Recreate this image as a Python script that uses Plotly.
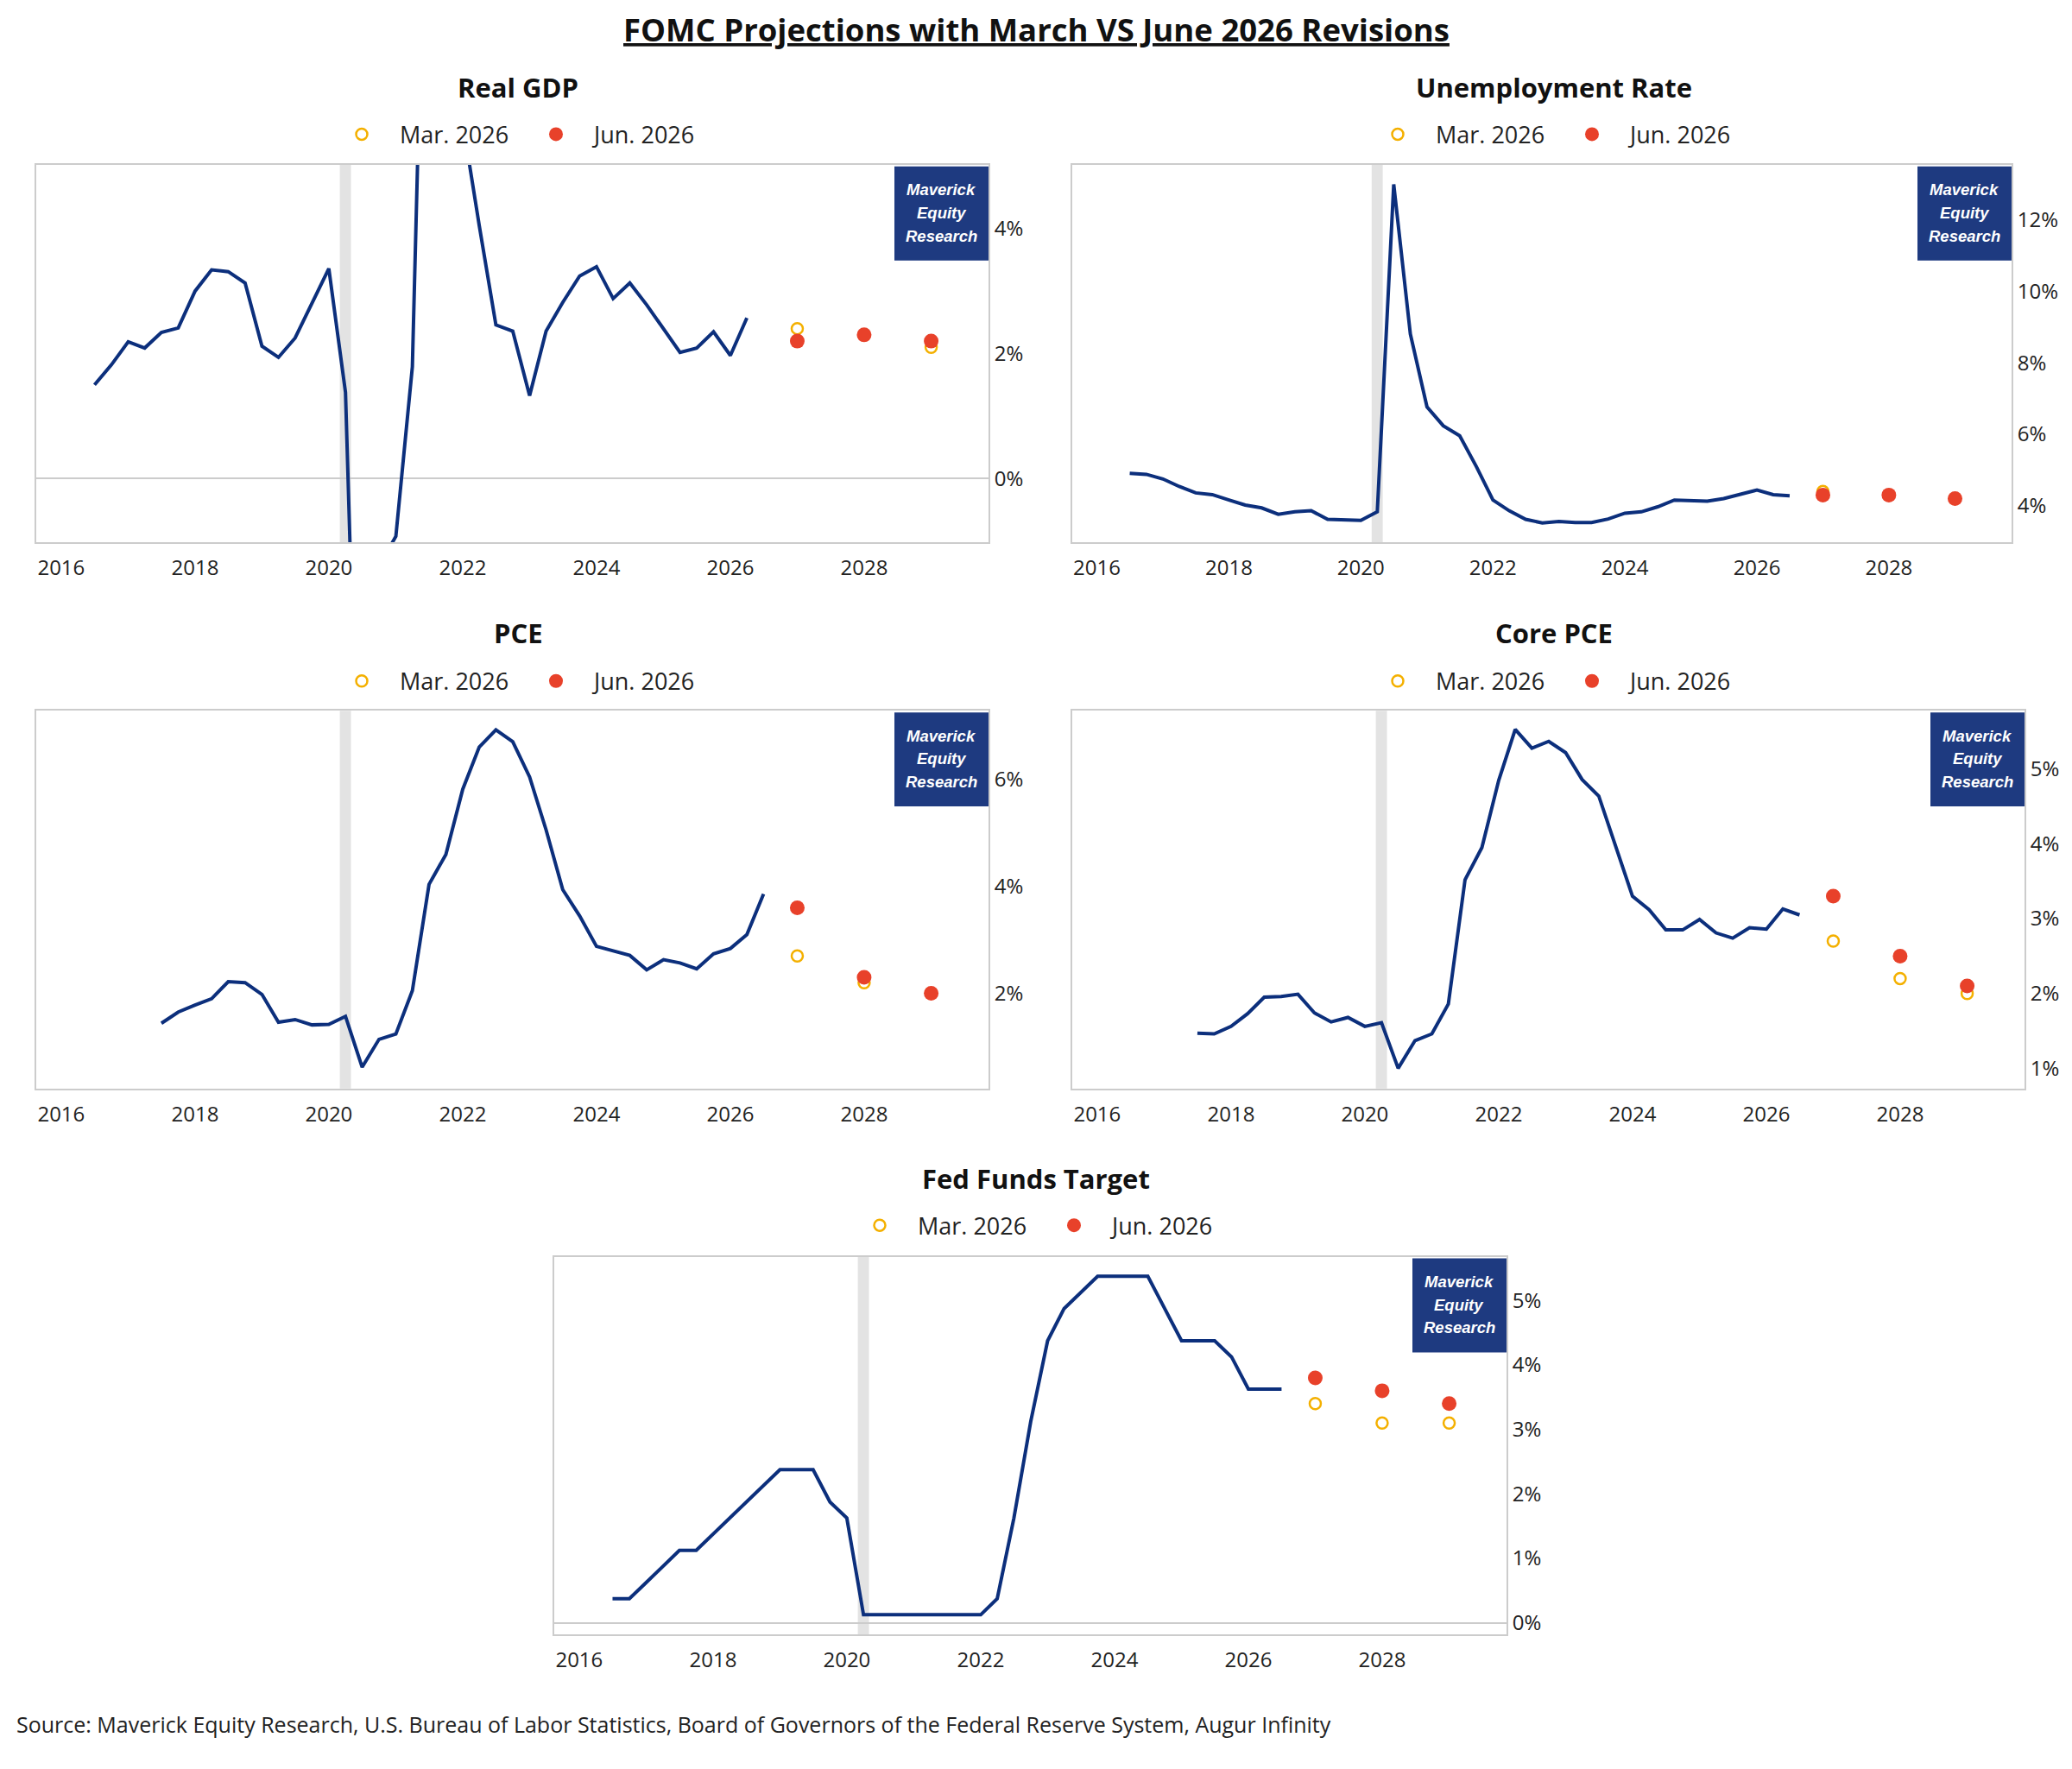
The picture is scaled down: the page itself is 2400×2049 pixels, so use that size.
import plotly.graph_objects as go
import pandas as pd

# ---------------- data ----------------
TITLE = "FOMC Projections with March VS June 2026 Revisions"
SOURCE = ("Source: Maverick Equity Research, U.S. Bureau of Labor Statistics, "
          "Board of Governors of the Federal Reserve System, Augur Infinity")
panel_titles = ["Real GDP", "Unemployment Rate", "PCE", "Core PCE", "Fed Funds Target"]
legend_names = ["Mar. 2026", "Jun. 2026"]
proj_dates = ["2027-01-01", "2028-01-01", "2029-01-01"]
recession = ["2020-03-01", "2020-05-01"]
watermark_lines = ["Maverick", "Equity", "Research"]

gdp_start = "2016-07-01"
gdp_vals = [1.50, 1.82, 2.19, 2.09, 2.34, 2.41, 3.00, 3.34, 3.31, 3.13,
            2.12, 1.94, 2.25, 2.81, 3.36, 1.38, -7.6, -1.4, -0.92, 1.79,
            12.2, 6.0, 5.7, 4.05, 2.46, 2.36, 1.33, 2.36, 2.82, 3.24,
            3.39, 2.88, 3.13, 2.78, 2.40, 2.02, 2.09, 2.35, 1.97, 2.57]
gdp_mar = [2.4, 2.3, 2.1]
gdp_jun = [2.2, 2.3, 2.2]

unemp_start = "2016-07-01"
unemp_vals = [4.91, 4.88, 4.75, 4.54, 4.36, 4.31, 4.16, 4.02, 3.94, 3.76,
              3.83, 3.86, 3.62, 3.61, 3.59, 3.83, 13.0, 8.81, 6.77, 6.24,
              5.96, 5.10, 4.16, 3.86, 3.62, 3.52, 3.56, 3.53, 3.53, 3.63,
              3.79, 3.83, 3.97, 4.16, 4.15, 4.13, 4.20, 4.31, 4.44, 4.31, 4.28]
unemp_mar = [4.4, 4.3, 4.2]
unemp_jun = [4.3, 4.3, 4.2]

pce_start = "2017-07-01"
pce_vals = [1.44, 1.65, 1.78, 1.90, 2.22, 2.20, 1.98, 1.46, 1.51, 1.41,
            1.42, 1.57, 0.62, 1.14, 1.24, 2.05, 4.04, 4.60, 5.82, 6.61,
            6.93, 6.71, 6.05, 5.06, 3.94, 3.45, 2.88, 2.79, 2.71, 2.44,
            2.63, 2.57, 2.46, 2.74, 2.84, 3.10, 3.86]
pce_mar = [2.7, 2.2, 2.0]
pce_jun = [3.6, 2.3, 2.0]

core_start = "2017-07-01"
core_vals = [1.47, 1.46, 1.56, 1.73, 1.95, 1.96, 1.99, 1.74, 1.62, 1.68,
             1.56, 1.61, 1.00, 1.37, 1.46, 1.86, 3.52, 3.95, 4.85, 5.53,
             5.28, 5.37, 5.22, 4.86, 4.64, 3.96, 3.30, 3.12, 2.85, 2.85,
             2.99, 2.81, 2.74, 2.88, 2.86, 3.13, 3.05]
core_mar = [2.7, 2.2, 2.0]
core_jun = [3.3, 2.5, 2.1]

ff_start = "2016-07-01"
ff_vals = [0.375, 0.375, 0.625, 0.875, 1.125, 1.125, 1.375, 1.625, 1.875, 2.125,
           2.375, 2.375, 2.375, 1.875, 1.625, 0.125, 0.125, 0.125, 0.125, 0.125,
           0.125, 0.125, 0.125, 0.375, 1.625, 3.125, 4.375, 4.875, 5.125, 5.375,
           5.375, 5.375, 5.375, 4.875, 4.375, 4.375, 4.375, 4.125, 3.625, 3.625, 3.625]
ff_mar = [3.4, 3.1, 3.1]
ff_jun = [3.8, 3.6, 3.4]

series = [
    (gdp_start, gdp_vals, gdp_mar, gdp_jun),
    (unemp_start, unemp_vals, unemp_mar, unemp_jun),
    (pce_start, pce_vals, pce_mar, pce_jun),
    (core_start, core_vals, core_mar, core_jun),
    (ff_start, ff_vals, ff_mar, ff_jun),
]

# ---------------- layout (pixels, in screenshot coordinates) ----------------
OFF = 8                      # default page margin around the plot
W, H = 2400 - 2 * OFF, 2049 - 2 * OFF
panels = [
    dict(x0=42, x1=1145, y0=191, y1=629, cx=600, ty=101, ly=156, yr=[-1.02, 5.02], dt=2),
    dict(x0=1242, x1=2330, y0=191, y1=629, cx=1800, ty=101, ly=156, yr=[2.97, 13.55], dt=2),
    dict(x0=42, x1=1145, y0=824, y1=1262, cx=600, ty=734, ly=790, yr=[0.22, 7.29], dt=2),
    dict(x0=1242, x1=2345, y0=824, y1=1262, cx=1800, ty=734, ly=790, yr=[0.73, 5.78], dt=1),
    dict(x0=642, x1=1745, y0=1457, y1=1895, cx=1200, ty=1366, ly=1421, yr=[-0.18, 5.68], dt=1),
]


def fx(v):
    return (v - OFF) / W


def fy(v):
    return 1 - (v - OFF) / H


FONT = "Open Sans"
LINE_COLOR = "#0c2f7c"
MAR_COLOR = "#f4b000"
JUN_COLOR = "#e8412a"
BOX_COLOR = "#1e3a80"
BORDER = "#cccccc"

fig = go.Figure()
layout = dict(
    width=W, height=H,
    margin=dict(l=0, r=0, t=0, b=0),
    paper_bgcolor="white", plot_bgcolor="white",
    font=dict(family=FONT, color="#222222", size=24),
    showlegend=True,
    shapes=[], annotations=[],
)

for i, (p, (start, vals, mar, jun)) in enumerate(zip(panels, series), start=1):
    sfx = "" if i == 1 else str(i)
    xa, ya = f"x{sfx}", f"y{sfx}"
    leg = f"legend{sfx}"
    dates = pd.date_range(start, periods=len(vals), freq="QS")
    fig.add_trace(go.Scatter(x=dates, y=vals, mode="lines", xaxis=xa, yaxis=ya,
                             line=dict(color=LINE_COLOR, width=4),
                             showlegend=False, hoverinfo="skip"))
    fig.add_trace(go.Scatter(x=proj_dates, y=mar, mode="markers", xaxis=xa, yaxis=ya,
                             name=legend_names[0], legend=leg,
                             marker=dict(symbol="circle-open", size=13, color=MAR_COLOR,
                                         line=dict(width=2.5, color=MAR_COLOR))))
    fig.add_trace(go.Scatter(x=proj_dates, y=jun, mode="markers", xaxis=xa, yaxis=ya,
                             name=legend_names[1], legend=leg,
                             marker=dict(symbol="circle", size=17, color=JUN_COLOR)))

    pw = p["x1"] - p["x0"]
    ph = p["y1"] - p["y0"]
    layout[f"xaxis{sfx}"] = dict(
        domain=[fx(p["x0"]), fx(p["x1"])], anchor=ya, type="date",
        range=["2015-08-18", "2029-11-10"],
        tick0="2016-01-01", dtick="M24", tickformat="%Y",
        showgrid=False, zeroline=False, ticks="", ticklabelstandoff=7,
        showline=True, mirror=True, linecolor=BORDER, linewidth=2,
        tickfont=dict(size=24, color="#222222"),
    )
    layout[f"yaxis{sfx}"] = dict(
        domain=[fy(p["y1"]), fy(p["y0"])], anchor=xa, side="right",
        range=p["yr"], dtick=p["dt"], ticksuffix="%",
        showgrid=False, zeroline=True, zerolinecolor=BORDER, zerolinewidth=2,
        ticks="", ticklabelstandoff=0,
        showline=True, mirror=True, linecolor=BORDER, linewidth=2,
        tickfont=dict(size=24, color="#222222"),
    )
    layout[leg] = dict(
        orientation="h", x=fx(p["cx"]), y=fy(p["ly"]),
        xanchor="center", yanchor="middle",
        font=dict(size=27, color="#222222", family=FONT),
        itemwidth=78, entrywidth=132, bgcolor="rgba(0,0,0,0)",
    )
    # recession band
    layout["shapes"].append(dict(
        type="rect", xref=xa, yref=f"{ya} domain",
        x0=recession[0], x1=recession[1], y0=0, y1=1,
        fillcolor="#e3e3e3", line=dict(width=0), layer="below"))
    # watermark box
    layout["shapes"].append(dict(
        type="rect", xref=f"{xa} domain", yref=f"{ya} domain",
        x0=1 - 109 / pw, x1=1, y0=1 - 111 / ph, y1=1 - 2 / ph,
        fillcolor=BOX_COLOR, line=dict(width=0), layer="above"))
    for k, txt in enumerate(watermark_lines):
        layout["annotations"].append(dict(
            xref=f"{xa} domain", yref=f"{ya} domain",
            x=1 - 54.5 / pw, y=1 - (29 + 26.7 * k) / ph,
            text=f"<b><i>{txt}</i></b>", showarrow=False,
            xanchor="center", yanchor="middle",
            font=dict(family="Liberation Sans", size=18.5, color="white")))
    # panel title
    layout["annotations"].append(dict(
        xref="paper", yref="paper", x=fx(p["cx"]), y=fy(p["ty"]),
        text=f"<b>{panel_titles[i - 1]}</b>", showarrow=False,
        xanchor="center", yanchor="middle",
        font=dict(family=FONT, size=31, color="#111111")))

# main title
layout["annotations"].append(dict(
    xref="paper", yref="paper", x=fx(1200), y=fy(34),
    text=f"<b>{TITLE}</b>", showarrow=False, xanchor="center", yanchor="middle",
    font=dict(family=FONT, size=36.5, color="#111111", lineposition="under")))
# source
layout["annotations"].append(dict(
    xref="paper", yref="paper", x=fx(17), y=fy(1999),
    text=SOURCE, showarrow=False, xanchor="left", yanchor="middle",
    font=dict(family=FONT, size=25, color="#222222")))

fig.update_layout(**layout)
fig.write_html("out.html")
